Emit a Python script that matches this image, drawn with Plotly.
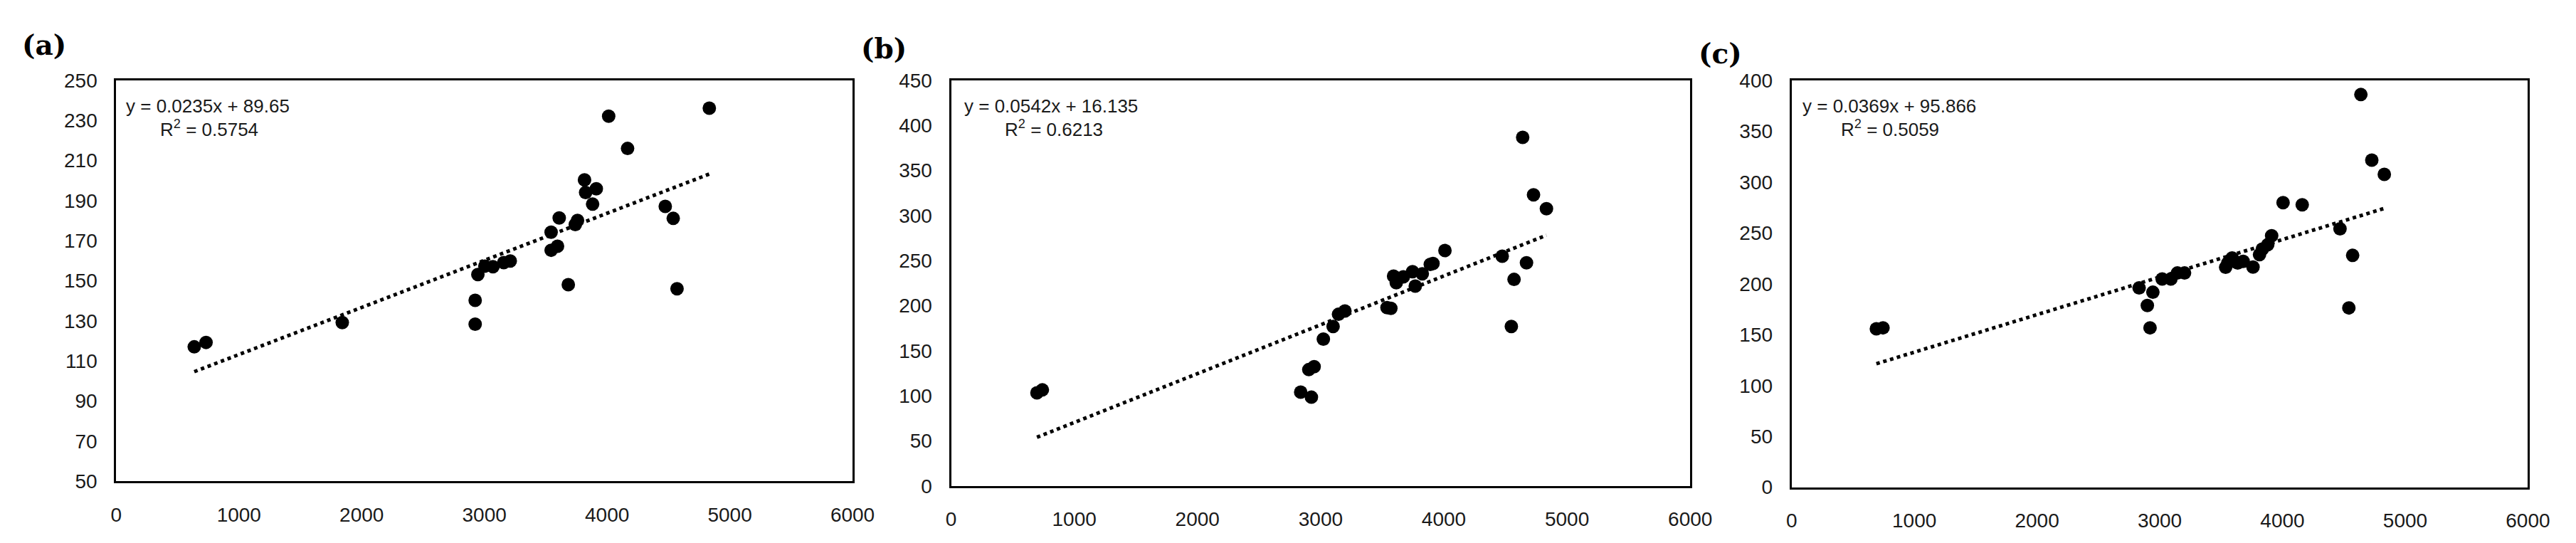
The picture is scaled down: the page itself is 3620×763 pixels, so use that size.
import numpy as np
import plotly.graph_objects as go

# Panel (a)
xa = [636, 732, 1842, 2925, 2925, 2947, 3004, 3070, 3158, 3211, 3544, 3544, 3596, 3610,
      3684, 3741, 3759, 3816, 3825, 3882, 3912, 4013, 4167, 4474, 4539, 4570, 4833]
ya = [117, 119.2, 129.1, 140.2, 128.3, 153.1, 157.3, 157, 159, 159.8, 174.2, 165.2, 167.2, 181.3,
      148, 178, 180.1, 200.3, 194, 188.2, 195.9, 232.1, 216, 187.1, 181.1, 146, 236.1]

# Panel (b)
xb = [697, 741, 2838, 2925, 2904, 2947, 3022, 3101, 3145, 3197, 3539, 3570, 3592, 3614,
      3671, 3746, 3768, 3825, 3890, 3912, 4009, 4474, 4548, 4570, 4640, 4671, 4728, 4833]
yb = [103.2, 106.5, 104, 98.4, 129, 132.2, 162.8, 176.8, 190.4, 194.1, 197.8, 197, 232.8, 225.4,
      232, 237.6, 221.7, 235.3, 245.7, 246.8, 261.1, 254.9, 176.8, 229.1, 386.7, 247.5, 323, 307.5]

# Panel (c)
xc = [691, 745, 2832, 2899, 2944, 2921, 3020, 3091, 3144, 3202, 3537, 3555, 3590, 3635,
      3680, 3760, 3813, 3836, 3880, 3912, 4005, 4161, 4469, 4541, 4572, 4639, 4728, 4830]
yc = [155.8, 156.7, 195.9, 178.6, 191.7, 156.7, 204.7, 204.7, 210.6, 210.6, 216.2, 220.4, 225.3, 220.4,
      222, 216.5, 228.6, 234.1, 238.4, 247.2, 279.8, 277.6, 254, 176.3, 227.9, 386, 321.6, 307.6]

slopes = [0.0235, 0.0542, 0.0369]
intercepts = [89.65, 16.135, 95.866]
eq_labels = ['y = 0.0235x + 89.65', 'y = 0.0542x + 16.135', 'y = 0.0369x + 95.866']
r2_labels = ['R<sup>2</sup> = 0.5754', 'R<sup>2</sup> = 0.6213', 'R<sup>2</sup> = 0.5059']
panel_names = ['(a)', '(b)', '(c)']
y_ranges = [[50, 250], [0, 450], [0, 400]]
y_dticks = [20, 50, 50]

W, H = 3620, 763
# plot boxes in pixels: left, right, top, bottom
boxes = [(157, 1203, 102, 689), (1343, 2393, 102, 696), (2537, 3583, 102, 698)]
name_pos = [(55, 50), (1247, 55), (2436, 63)]
eq_off = [(12, 60), (17, 74), (13, 68)]

FONT = 'Liberation Sans, Arial, sans-serif'
fig = go.Figure()

series = [(xa, ya), (xb, yb), (xc, yc)]
for i, (xs, ys) in enumerate(series):
    ax = '' if i == 0 else str(i + 1)
    x_line = np.array([min(xs), max(xs)])
    fig.add_trace(go.Scatter(
        x=x_line, y=slopes[i] * x_line + intercepts[i],
        mode='lines', line=dict(color='black', width=5, dash='dot'),
        xaxis='x' + ax, yaxis='y' + ax, showlegend=False, hoverinfo='skip'))
    fig.add_trace(go.Scatter(
        x=xs, y=ys, mode='markers',
        marker=dict(size=19, color='black'),
        xaxis='x' + ax, yaxis='y' + ax, showlegend=False))

    l, r, t, b = boxes[i]
    common = dict(showline=True, linecolor='black', linewidth=3, mirror=True,
                  showgrid=False, zeroline=False, ticks='',
                  tickfont=dict(family=FONT, size=28, color='#1a1a1a'))
    fig.layout['xaxis' + ax] = dict(
        domain=[l / W, r / W], range=[0, 6000], dtick=1000, tick0=0,
        anchor='y' + ax, ticklabelstandoff=20, **common)
    fig.layout['yaxis' + ax] = dict(
        domain=[1 - b / H, 1 - t / H], range=y_ranges[i], dtick=y_dticks[i],
        tick0=y_ranges[i][0], anchor='x' + ax, ticklabelstandoff=18, **common)

    nx, ny = name_pos[i]
    fig.add_annotation(x=nx / W, y=1 - ny / H, xref='paper', yref='paper',
                       xanchor='center', yanchor='middle',
                       text='<b>' + panel_names[i] + '</b>', showarrow=False,
                       font=dict(family='DejaVu Serif, serif', size=39, color='black'))
    fig.add_annotation(x=(l + eq_off[i][0]) / W, y=1 - (t + 38) / H,
                       xref='paper', yref='paper', xanchor='left', yanchor='middle',
                       text=eq_labels[i], showarrow=False,
                       font=dict(family=FONT, size=26, color='#1a1a1a'))
    fig.add_annotation(x=(l + eq_off[i][1]) / W, y=1 - (t + 71) / H,
                       xref='paper', yref='paper', xanchor='left', yanchor='middle',
                       text=r2_labels[i], showarrow=False,
                       font=dict(family=FONT, size=26, color='#1a1a1a'))

fig.update_layout(
    width=W, height=H,
    margin=dict(l=0, r=0, t=0, b=0),
    paper_bgcolor='white', plot_bgcolor='white',
)

# drop the default page margin so the figure sits at the window origin
fig.write_html("out.html", config={'displayModeBar': False},
               post_script="document.body.style.margin='0';")
